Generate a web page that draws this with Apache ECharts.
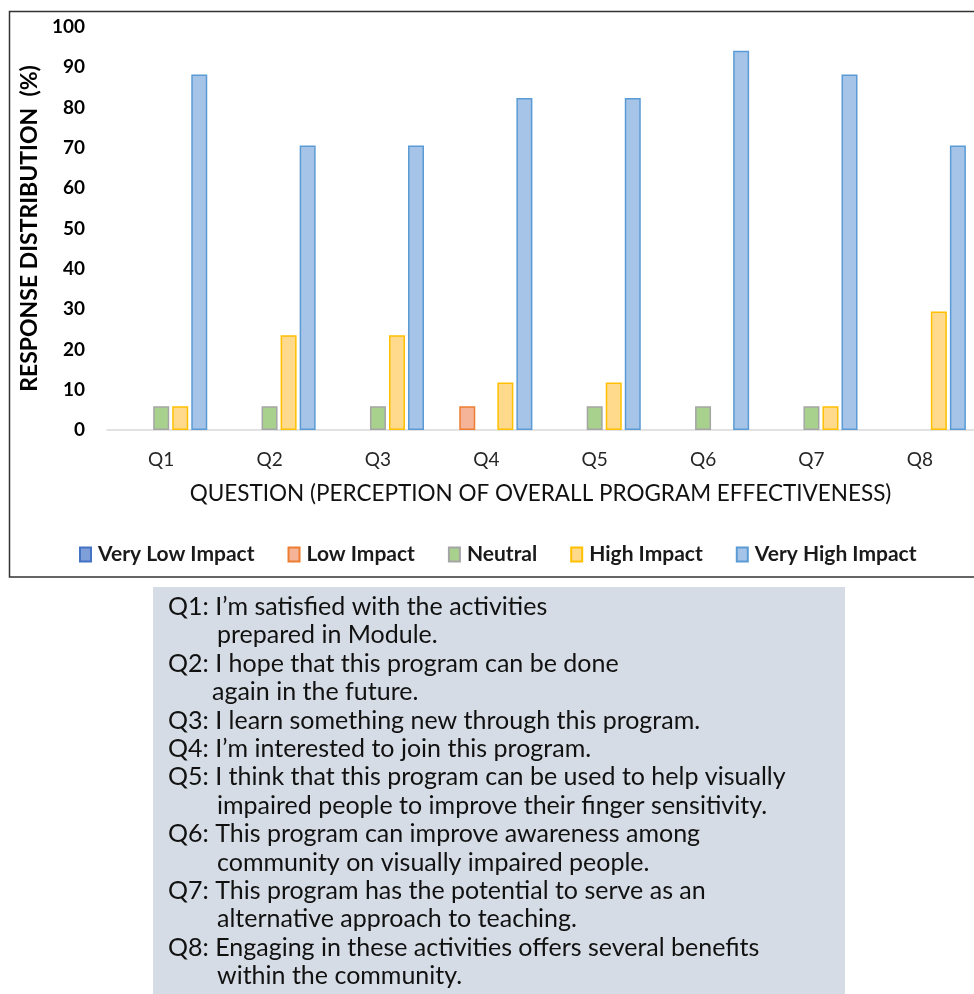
<!DOCTYPE html>
<html>
<head>
<meta charset="utf-8">
<script src="https://cdn.jsdelivr.net/npm/echarts@6/dist/echarts.min.js"></script>
<style>
html,body{margin:0;padding:0;background:#fff;}
#chart{width:974px;height:994px;}
</style>
</head>
<body>
<div id="chart"></div>
<script>
var categories = ['Q1','Q2','Q3','Q4','Q5','Q6','Q7','Q8'];
var veryLowImpact  = [0, 0, 0, 0, 0, 0, 0, 0];
var lowImpact      = [0, 0, 0, 5.9, 0, 0, 0, 0];
var neutral        = [5.9, 5.9, 5.9, 0, 5.9, 5.9, 5.9, 0];
var highImpact     = [5.9, 23.5, 23.5, 11.8, 11.8, 0, 5.9, 29.4];
var veryHighImpact = [88.2, 70.6, 70.6, 82.4, 82.4, 94.1, 88.2, 70.6];
var seriesNames = ['Very Low Impact','Low Impact','Neutral','High Impact','Very High Impact'];
var yAxisTitle = 'RESPONSE DISTRIBUTION  (%)';
var xAxisTitle = 'QUESTION (PERCEPTION OF OVERALL PROGRAM EFFECTIVENESS)';
var noteLines = [
  ['Q1: I\u2019m satisfied with the activities', 0],
  ['prepared in Module.', 1],
  ['Q2: I hope that this program can be done', 0],
  ['again in the future.', 2],
  ['Q3: I learn something new through this program.', 0],
  ['Q4: I\u2019m interested to join this program.', 0],
  ['Q5: I think that this program can be used to help visually', 0],
  ['impaired people to improve their finger sensitivity.', 1],
  ['Q6: This program can improve awareness among', 0],
  ['community on visually impaired people.', 1],
  ['Q7: This program has the potential to serve as an', 0],
  ['alternative approach to teaching.', 1],
  ['Q8: Engaging in these activities offers several benefits', 0],
  ['within the community.', 1]
];

var FONT = 'Lato';
var styles = [
  {fill:'#7f9fd9', stroke:'#4472c4'},
  {fill:'#f5b398', stroke:'#ed7d31'},
  {fill:'#a9d18e', stroke:'#a5a5a5'},
  {fill:'#ffd98c', stroke:'#ffc000'},
  {fill:'#a6c4e8', stroke:'#5b9bd5'}
];
var dataSets = [veryLowImpact, lowImpact, neutral, highImpact, veryHighImpact];

var series = dataSets.map(function(d, i){
  return {
    name: seriesNames[i],
    type: 'bar',
    data: d.map(function(v){ return v === 0 ? null : v; }),
    barWidth: 16,
    barGap: '19%',
    itemStyle: {color: styles[i].fill, borderColor: styles[i].stroke, borderWidth: 1.5},
    emphasis: {disabled: true}
  };
});

var graphics = [
  {type:'rect', shape:{x:9.5, y:11.5, width:980, height:565.5}, style:{fill:'none', stroke:'#333', lineWidth:1.5}, z:-1, silent:true},
  {type:'rect', shape:{x:153, y:587, width:692, height:420}, style:{fill:'#d6dce5'}, z:-1, silent:true}
];
noteLines.forEach(function(l, i){
  var xs = [168, 217, 212];
  graphics.push({
    type:'text', x: xs[l[1]], y: 607 + i * 28.4,
    style:{text:l[0], fill:'#111', font:'25px ' + FONT, textVerticalAlign:'middle', verticalAlign:'middle'},
    silent:true
  });
});

var chart = echarts.init(document.getElementById('chart'), null, {renderer:'canvas'});
chart.setOption({
  animation: false,
  backgroundColor: '#fff',
  textStyle: {fontFamily: FONT},
  grid: {left: 107, top: 27, width: 874, height: 403, containLabel: false},
  legend: {
    data: seriesNames,
    left: 74, top: 539,
    itemWidth: 11, itemHeight: 14, itemGap: 33,
    icon: 'rect',
    textStyle: {fontFamily: FONT, fontSize: 21, fontWeight: 'bold', color: '#1a1a1a', padding:[0,0,0,2]},
    selectedMode: false
  },
  xAxis: {
    type: 'category',
    data: categories,
    axisLine: {lineStyle: {color: '#d9d9d9', width: 1.5}},
    axisTick: {show: false},
    axisLabel: {fontFamily: FONT, fontSize: 19, color: '#262626', margin: 20},
    name: xAxisTitle,
    nameLocation: 'middle',
    nameGap: 52,
    nameTextStyle: {fontFamily: FONT, fontSize: 22.5, color: '#111'}
  },
  yAxis: {
    type: 'value',
    min: 0, max: 100, interval: 10,
    axisLine: {show: false},
    axisTick: {show: false},
    splitLine: {show: false},
    axisLabel: {fontFamily: FONT, fontSize: 19, fontWeight: 'bold', color: '#000', margin: 22},
    name: yAxisTitle,
    nameLocation: 'middle',
    nameRotate: 90,
    nameGap: 63,
    nameTextStyle: {fontFamily: FONT, fontSize: 23, fontWeight: 'bold', color: '#000'}
  },
  series: series,
  graphic: graphics
});
</script>
</body>
</html>
